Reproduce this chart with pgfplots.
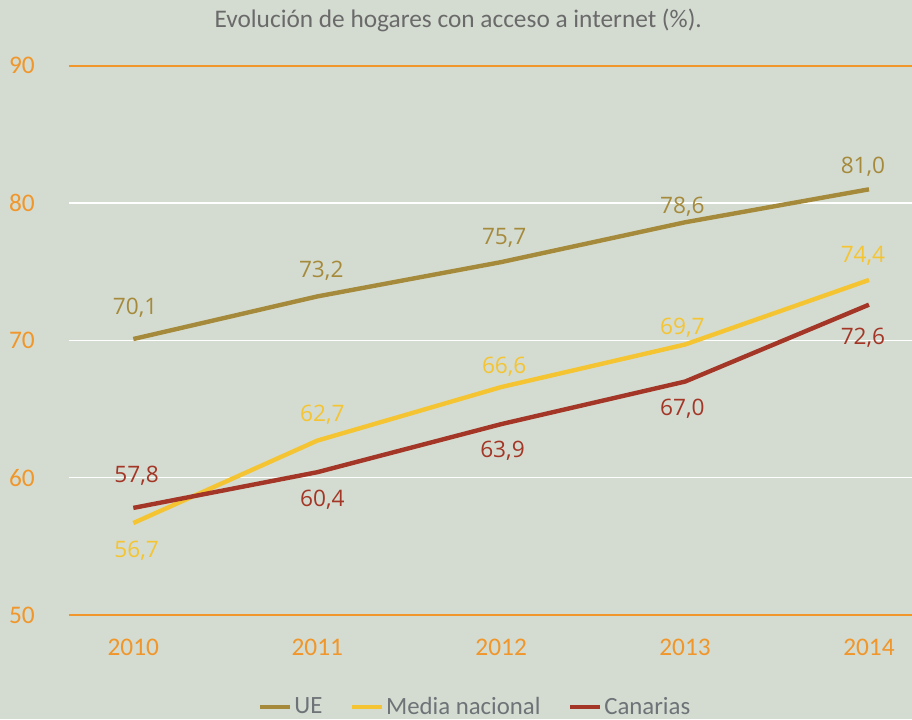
\documentclass[border=0pt]{standalone}
\usepackage{fontspec}
\setmainfont{Carlito}
\newfontfamily\labfont{Open Sans}
\usepackage{pgfplots}
\usepackage{pgfplotstable}
\pgfplotsset{compat=1.18}
\definecolor{bgcol}{HTML}{D4DCD1}
\definecolor{orangecol}{HTML}{F0962A}
\definecolor{titlegray}{HTML}{6A6A6A}
\definecolor{leggray}{HTML}{6E7378}
\definecolor{uecol}{HTML}{A68A3C}
\definecolor{mediacol}{HTML}{F4C433}
\definecolor{cancol}{HTML}{A33626}

\pgfplotstableread{
x y dx dy
2010 70.1 1.3 23.2
2011 73.2 3.0 19.5
2012 75.7 2.3 18.0
2013 78.6 -2.0 11.8
2014 81.0 -4.5 17.3
}\ue
\pgfplotstableread{
x y dx dy
2010 56.7 2.5 -21.0
2011 62.7 3.8 19.5
2012 66.6 2.3 15.0
2013 69.7 -2.0 12.8
2014 74.4 -4.5 18.0
}\media
\pgfplotstableread{
x y dx dy
2010 57.8 2.5 24.0
2011 60.4 3.8 -20.3
2012 63.9 1.0 -20.3
2013 67.0 -2.0 -20.3
2014 72.6 -4.5 -24.8
}\can

\pgfplotsset{
  lab/.style={
    nodes near coords={\labfont\fontsize{17}{20}\selectfont\pgfmathprintnumber[fixed,fixed zerofill,precision=1,use comma,assume math mode=true]{\pgfplotspointmeta}},
    visualization depends on={\thisrow{dx} \as \myDX},
    visualization depends on={\thisrow{dy} \as \myDY},
    every node near coord/.append style={anchor=center, inner sep=0pt, xshift=\myDX pt, yshift=\myDY pt, text=#1},
  }
}

\begin{document}
\begin{tikzpicture}
\fill[bgcol] (-51.45pt,-78pt) rectangle (632.6pt,461.3pt);
\begin{axis}[
  at={(0pt,0pt)}, anchor=south west,
  scale only axis, width=632.6pt, height=412pt,
  xmin=2009.648, xmax=2014.234, ymin=50, ymax=90,
  clip=false,
  axis line style={draw=none},
  tick style={draw=none},
  xtick={2010,2011,2012,2013,2014},
  ytick={50,60,70,80,90},
  ymajorgrids,
  grid style={white, line width=1.1pt},
  extra y ticks={50,90},
  extra y tick labels={},
  extra y tick style={grid style={orangecol, line width=1.5pt}},
  /pgf/number format/assume math mode=true,
  /pgf/number format/1000 sep={},
  ticklabel style={font=\fontsize{19}{21}\selectfont, text=orangecol, inner sep=0pt},
  yticklabel style={anchor=center, xshift=-35pt},
  xticklabel style={anchor=center, yshift=-24.6pt},
  title={Evolución de hogares con acceso a internet (\%).},
  title style={at={(0.462,1)}, anchor=center, yshift=27.8pt, inner sep=0pt,
    font=\fontsize{19}{21}\selectfont, text=titlegray},
  legend style={at={(0.482,-0.1675)}, anchor=center, draw=none, fill=none,
    legend columns=3, font=\fontsize{18.6}{20}\selectfont, text=leggray,
    inner sep=0pt, nodes={inner sep=1.5pt},
    /tikz/every even column/.append style={column sep=19pt}},
  legend cell align=left,
  legend image code/.code={\draw[#1, line width=3.3pt] (0pt,0pt) -- (22.5pt,0pt);},
]
\addplot[uecol, line width=3.3pt, lab=uecol] table[x=x,y=y] {\ue};
\addlegendentry{UE}
\addplot[mediacol, line width=3.3pt, lab=mediacol] table[x=x,y=y] {\media};
\addlegendentry{Media nacional}
\addplot[cancol, line width=3.3pt, lab=cancol] table[x=x,y=y] {\can};
\addlegendentry{Canarias}
\end{axis}
\pgfresetboundingbox
\path[use as bounding box] (-51.45pt,-78pt) rectangle (632.6pt,461.3pt);
\end{tikzpicture}
\end{document}
